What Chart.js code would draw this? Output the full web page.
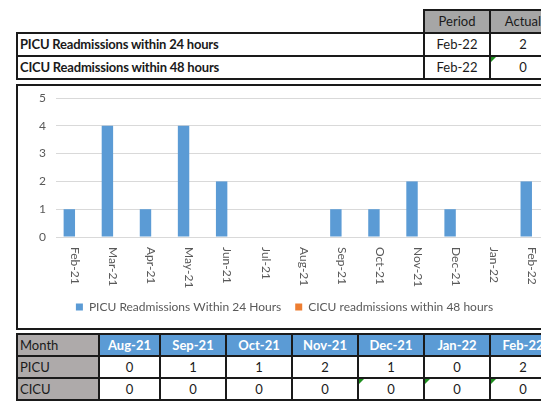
<!DOCTYPE html>
<html>
<head>
<meta charset="utf-8">
<script src="https://cdn.jsdelivr.net/npm/chart.js@4.4.0/dist/chart.umd.min.js"></script>
<style>
  html, body { margin: 0; padding: 0; width: 541px; height: 404px; overflow: hidden; background: #fff; }
  body { position: relative; font-family: Lato, 'Open Sans', sans-serif; color: #1a1a1a; }
  table { border-collapse: collapse; table-layout: fixed; position: absolute; font-size: 13px; width: 539px; }
  td { border: 2px solid #1a1a1a; height: 21px; padding: 0; text-align: center; white-space: nowrap; overflow: hidden; position: relative; line-height: 19px; }
  #summary { left: 16px; top: 9px; }
  #summary td.lbl { text-align: left; font-weight: bold; padding-left: 2px; letter-spacing: -0.2px; }
  #summary td.head { background: #a6a6a6; }
  #summary td.blank { border-top: none; border-left: none; }
  #monthly { left: 16px; top: 333px; }
  #monthly td { height: 20px; }
  #monthly td.head { background: #5b9bd5; color: #fff; font-weight: bold; }
  #monthly td.side { background: #aeaaaa; text-align: left; padding-left: 2px; }
  td.flag::before { content: ''; position: absolute; left: 0; top: 0; border-top: 5px solid #1f8f1f; border-right: 5px solid transparent; }
  #chartBox { position: absolute; left: 16px; top: 84px; width: 600px; height: 242px; border: 2px solid #1a1a1a; }
  #chartBox canvas { position: absolute; left: 0; top: 0; }
</style>
</head>
<body>
<table id="summary"></table>
<div id="chartBox"><canvas id="readmitChart" width="560" height="242"></canvas></div>
<table id="monthly"></table>

<script>
// --- datos del gráfico ---
const months = ['Feb-21', 'Mar-21', 'Apr-21', 'May-21', 'Jun-21', 'Jul-21', 'Aug-21',
                'Sep-21', 'Oct-21', 'Nov-21', 'Dec-21', 'Jan-22', 'Feb-22'];
const picuValues = [1, 4, 1, 4, 2, 0, 0, 1, 1, 2, 1, 0, 2];
const cicuValues = [0, 0, 0, 0, 0, 0, 0, 0, 0, 0, 0, 0, 0];
const yTicks = [0, 1, 2, 3, 4, 5];

// --- tabla resumen (arriba) ---
const summaryLabels = ['PICU Readmissions within 24 hours', 'CICU Readmissions within 48 hours'];
const summaryPeriod = ['Feb-22', 'Feb-22'];
const summaryActual = [picuValues[picuValues.length - 1], cicuValues[cicuValues.length - 1]];

// --- tabla mensual (abajo): últimos 7 meses ---
const tableCount = 7;

const summary = document.getElementById('summary');
summary.innerHTML =
    '<colgroup><col style="width:407px"><col style="width:66px"><col style="width:66px"></colgroup>' +
    '<tr><td class="blank"></td><td class="head">Period</td><td class="head">Actual</td></tr>' +
    summaryLabels.map((l, i) =>
        `<tr><td class="lbl">${l}</td><td>${summaryPeriod[i]}</td><td class="${i === 1 ? 'flag' : ''}">${summaryActual[i]}</td></tr>`
    ).join('');

const monthly = document.getElementById('monthly');
const tMonths = months.slice(-tableCount);
const tPicu = picuValues.slice(-tableCount);
const tCicu = cicuValues.slice(-tableCount);
monthly.innerHTML =
    '<colgroup><col style="width:82px"><col style="width:61px">' + '<col style="width:66px">'.repeat(tableCount - 1) + '</colgroup>' +
    '<tr><td class="side">Month</td>' + tMonths.map(m => `<td class="head">${m}</td>`).join('') + '</tr>' +
    '<tr><td class="side">PICU</td>' + tPicu.map(v => `<td>${v}</td>`).join('') + '</tr>' +
    '<tr><td class="side">CICU</td>' + tCicu.map((v, i) => `<td class="${i >= 4 ? 'flag' : ''}">${v}</td>`).join('') + '</tr>';

// Etiquetas del eje X giradas 90° (se leen de arriba a abajo)
const rotatedLabels = {
    id: 'rotatedLabels',
    afterDraw(chart) {
        const sc = chart.scales.x;
        const ctx = chart.ctx;
        ctx.save();
        ctx.fillStyle = '#595959';
        ctx.font = '12px Lato';
        ctx.textAlign = 'left';
        ctx.textBaseline = 'middle';
        chart.data.labels.forEach((lbl, i) => {
            const x = sc.getPixelForValue(i);
            ctx.save();
            ctx.translate(x, sc.top + 10);
            ctx.rotate(Math.PI / 2);
            ctx.fillText(lbl, 0, 0);
            ctx.restore();
        });
        ctx.restore();
    }
};

new Chart(document.getElementById('readmitChart'), {
    type: 'bar',
    data: {
        labels: months,
        datasets: [{
            label: 'PICU Readmissions Within 24 Hours',
            data: picuValues,
            backgroundColor: '#5b9bd5'
        }, {
            label: 'CICU readmissions within 48 hours',
            data: cicuValues,
            backgroundColor: '#ed7d31'
        }]
    },
    options: {
        responsive: false,
        animation: false,
        categoryPercentage: 0.6,
        barPercentage: 1,
        layout: { autoPadding: false, padding: { left: 0, right: 27, top: 12, bottom: 5 } },
        scales: {
            x: {
                grid: { display: false },
                border: { color: '#d9d9d9' },
                ticks: { display: false },
                afterFit: s => { s.height = 50; }
            },
            y: {
                min: yTicks[0],
                max: yTicks[yTicks.length - 1],
                afterBuildTicks: s => { s.ticks = yTicks.map(v => ({ value: v })); },
                ticks: { color: '#595959', font: { size: 12, family: 'Lato' }, padding: 10 },
                grid: { color: '#d9d9d9', drawTicks: false },
                border: { display: false },
                // ancho fijo y sin relleno extra arriba/abajo
                afterFit: s => { s.width = 38; s.paddingTop = 0; s.paddingBottom = 0; }
            }
        },
        plugins: {
            legend: {
                position: 'bottom',
                labels: { boxWidth: 7, boxHeight: 7, color: '#595959', font: { size: 12, family: 'Lato' }, padding: 14 }
            },
            tooltip: { enabled: false }
        }
    },
    plugins: [rotatedLabels]
});
</script>
</body>
</html>
